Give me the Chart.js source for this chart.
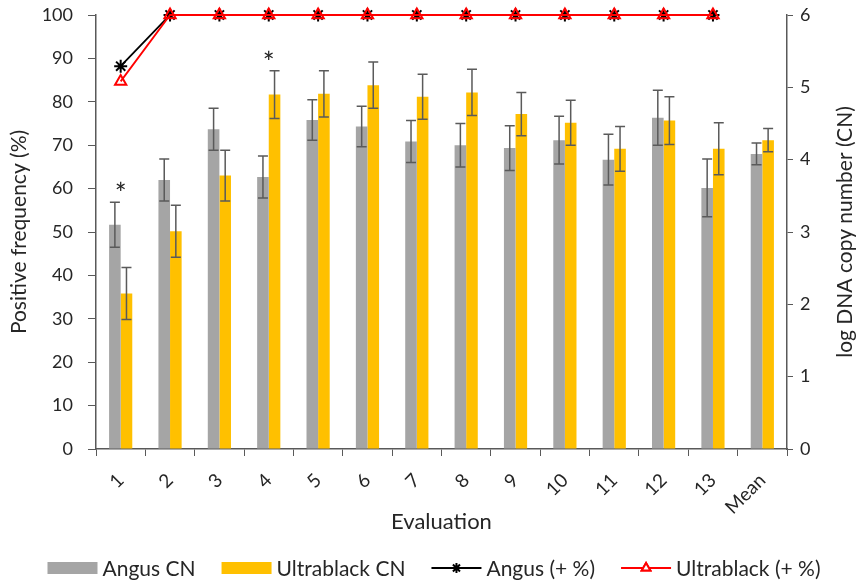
<!DOCTYPE html>
<html>
<head>
<meta charset="utf-8">
<script src="https://cdn.jsdelivr.net/npm/chart.js@4/dist/chart.umd.min.js"></script>
<style>
  html, body { margin: 0; padding: 0; background: #fff; }
  #wrap { width: 860px; height: 583px; }
</style>
</head>
<body>
<div id="wrap"><canvas id="grafik" width="860" height="583"></canvas></div>
<script>
// =====================================================
// DATA
// =====================================================
const evaluasi = ['1', '2', '3', '4', '5', '6', '7', '8', '9', '10', '11', '12', '13', 'Mean'];

// log DNA copy number (right axis)
const angusCN      = [3.10, 3.72, 4.42, 3.76, 4.55, 4.46, 4.25, 4.20, 4.16, 4.27, 4.00, 4.58, 3.61, 4.08];
const angusCNErr   = [0.31, 0.29, 0.29, 0.29, 0.28, 0.28, 0.29, 0.30, 0.31, 0.33, 0.35, 0.38, 0.40, 0.15];
const ultraCN      = [2.15, 3.01, 3.78, 4.90, 4.91, 5.03, 4.87, 4.93, 4.63, 4.51, 4.15, 4.54, 4.15, 4.27];
const ultraCNErr   = [0.36, 0.36, 0.35, 0.33, 0.32, 0.32, 0.31, 0.32, 0.30, 0.31, 0.31, 0.33, 0.36, 0.16];

// positive frequency % (left axis)
const angusPersen  = [88.2, 100, 100, 100, 100, 100, 100, 100, 100, 100, 100, 100, 100, null];
const ultraPersen  = [84.7, 100, 100, 100, 100, 100, 100, 100, 100, 100, 100, 100, 100, null];

// evaluasi dengan perbedaan signifikan (*)
const signifikan = ['1', '4'];

const FONT = 'Lato';
const WARNA_TEKS = '#262626';
const WARNA_SUMBU = '#595959';

// =====================================================
// PLUGIN ERROR BAR + TANDA *
// =====================================================
const errorBarPlugin = {
    id: 'errorBar',
    afterDatasetsDraw(chart) {
        const ctx = chart.ctx;
        const skala = chart.scales.y1;
        const daftarErr = [angusCNErr, ultraCNErr];
        const puncak = [];

        ctx.save();
        ctx.strokeStyle = '#5a5a5a';
        ctx.lineWidth = 1.5;

        [0, 1].forEach(di => {
            const meta = chart.getDatasetMeta(di);
            const nilai = chart.data.datasets[di].data;
            meta.data.forEach((bar, i) => {
                const atas = skala.getPixelForValue(nilai[i] + daftarErr[di][i]);
                const bawah = skala.getPixelForValue(nilai[i] - daftarErr[di][i]);
                const x = bar.x;
                const cap = 5;
                ctx.beginPath();
                ctx.moveTo(x, atas); ctx.lineTo(x, bawah);
                ctx.moveTo(x - cap, atas); ctx.lineTo(x + cap, atas);
                ctx.moveTo(x - cap, bawah); ctx.lineTo(x + cap, bawah);
                ctx.stroke();
                puncak[i] = Math.min(puncak[i] ?? Infinity, atas);
            });
        });

        // tanda signifikan
        ctx.fillStyle = '#222';
        ctx.font = '28px ' + FONT;
        ctx.textAlign = 'center';
        ctx.textBaseline = 'alphabetic';
        signifikan.forEach(lbl => {
            const i = evaluasi.indexOf(lbl);
            const x = chart.scales.x.getPixelForValue(i);
            ctx.fillText('*', x, puncak[i] + 2);
        });
        ctx.restore();
    }
};

// =====================================================
// PLUGIN JUDUL SUMBU KANAN + LEGENDA
// =====================================================
const legendaPlugin = {
    id: 'legenda',
    afterDraw(chart) {
        const ctx = chart.ctx;
        const area = chart.chartArea;

        // judul sumbu kanan (dibaca dari bawah ke atas)
        ctx.save();
        ctx.translate(845, (area.top + area.bottom) / 2);
        ctx.rotate(-Math.PI / 2);
        ctx.font = '21px ' + FONT;
        ctx.fillStyle = WARNA_TEKS;
        ctx.textAlign = 'center';
        ctx.textBaseline = 'middle';
        ctx.fillText('log DNA copy number (CN)', 0, 0);
        ctx.restore();

        const item = [
            { jenis: 'kotak', warna: '#a5a5a5', teks: 'Angus CN' },
            { jenis: 'kotak', warna: '#ffc000', teks: 'Ultrablack CN' },
            { jenis: 'garis', warna: '#000000', gaya: 'star', teks: 'Angus (+ %)' },
            { jenis: 'garis', warna: '#ff0000', gaya: 'triangle', teks: 'Ultrablack (+ %)' }
        ];
        const lebarSimbol = 50, jarak = 5, antar = 26;
        const y = 568;

        ctx.save();
        ctx.font = '21px ' + FONT;
        let total = 0;
        item.forEach(it => {
            it.w = ctx.measureText(it.teks).width;
            total += lebarSimbol + jarak + it.w;
        });
        total += antar * (item.length - 1);
        let x = 434 - total / 2;

        item.forEach(it => {
            if (it.jenis === 'kotak') {
                ctx.fillStyle = it.warna;
                ctx.fillRect(x, y - 6, lebarSimbol, 12);
            } else {
                ctx.strokeStyle = it.warna;
                ctx.lineWidth = 2;
                ctx.beginPath();
                ctx.moveTo(x, y); ctx.lineTo(x + lebarSimbol, y);
                ctx.stroke();
                Chart.helpers.drawPoint(ctx, {
                    pointStyle: it.gaya,
                    radius: 5,
                    borderWidth: 2
                }, x + lebarSimbol / 2, y);
                if (it.gaya === 'triangle') {
                    ctx.fillStyle = '#fff';
                    ctx.fill();
                    ctx.stroke();
                }
            }
            ctx.fillStyle = WARNA_TEKS;
            ctx.textAlign = 'left';
            ctx.textBaseline = 'middle';
            ctx.fillText(it.teks, x + lebarSimbol + jarak, y + 1);
            x += lebarSimbol + jarak + it.w + antar;
        });
        ctx.restore();
    }
};

// =====================================================
// GRAFIK
// =====================================================
const ctx = document.getElementById('grafik').getContext('2d');

new Chart(ctx, {
    type: 'bar',
    data: {
        labels: evaluasi,
        datasets: [
            {
                label: 'Angus CN',
                data: angusCN,
                backgroundColor: '#a5a5a5',
                yAxisID: 'y1',
                barPercentage: 1,
                categoryPercentage: 0.47,
                order: 3
            },
            {
                label: 'Ultrablack CN',
                data: ultraCN,
                backgroundColor: '#ffc000',
                yAxisID: 'y1',
                barPercentage: 1,
                categoryPercentage: 0.47,
                order: 3
            },
            {
                type: 'line',
                label: 'Angus (+ %)',
                data: angusPersen,
                yAxisID: 'y',
                borderColor: '#000000',
                borderWidth: 1.8,
                pointStyle: 'star',
                pointRadius: 6.5,
                pointBorderWidth: 2,
                pointBorderColor: '#000000',
                pointBackgroundColor: '#000000',
                clip: false,
                order: 2
            },
            {
                type: 'line',
                label: 'Ultrablack (+ %)',
                data: ultraPersen,
                yAxisID: 'y',
                borderColor: '#ff0000',
                borderWidth: 1.8,
                pointStyle: 'triangle',
                pointRadius: 6.5,
                pointBorderWidth: 2,
                pointBorderColor: '#ff0000',
                pointBackgroundColor: 'rgba(255,255,255,0)',
                clip: false,
                order: 1
            }
        ]
    },
    options: {
        responsive: false,
        animation: false,
        layout: { padding: { top: 15, bottom: 45, left: 0, right: 0 } },
        plugins: {
            legend: { display: false },
            tooltip: { enabled: false }
        },
        scales: {
            x: {
                offset: true,
                grid: {
                    offset: true,
                    drawOnChartArea: false,
                    drawTicks: true,
                    tickLength: 7,
                    color: WARNA_SUMBU
                },
                border: { color: WARNA_SUMBU, width: 1.5 },
                ticks: {
                    minRotation: 45,
                    maxRotation: 45,
                    padding: 13,
                    color: WARNA_TEKS,
                    font: { family: FONT, size: 19 }
                },
                title: {
                    display: true,
                    text: 'Evaluation',
                    color: WARNA_TEKS,
                    font: { family: FONT, size: 22 },
                    padding: { top: 0, bottom: 3 }
                },
                afterFit: s => {
                    s.height = 89;
                    s.paddingLeft = 0; s.paddingRight = 0;
                    s.paddingTop = 0; s.paddingBottom = 0;
                }
            },
            y: {
                position: 'left',
                min: 0,
                max: 100,
                grid: {
                    drawOnChartArea: false,
                    tickLength: 8,
                    color: WARNA_SUMBU
                },
                border: { color: WARNA_SUMBU, width: 1.5 },
                ticks: {
                    stepSize: 10,
                    padding: 15,
                    color: WARNA_TEKS,
                    font: { family: FONT, size: 18 }
                },
                title: {
                    display: true,
                    text: 'Positive frequency (%)',
                    color: WARNA_TEKS,
                    font: { family: FONT, size: 21 },
                    padding: { top: 7, bottom: 0 }
                },
                afterFit: s => {
                    s.width = 96;
                    s.paddingTop = 0; s.paddingBottom = 0;
                }
            },
            y1: {
                position: 'right',
                min: 0,
                max: 6,
                grid: {
                    drawOnChartArea: false,
                    tickLength: 6,
                    color: WARNA_SUMBU
                },
                border: { color: WARNA_SUMBU, width: 1.5 },
                ticks: {
                    stepSize: 1,
                    padding: 7,
                    color: WARNA_TEKS,
                    font: { family: FONT, size: 18 }
                },
                afterFit: s => {
                    s.width = 73;
                    s.paddingTop = 0; s.paddingBottom = 0;
                }
            }
        }
    },
    plugins: [errorBarPlugin, legendaPlugin]
});
</script>
</body>
</html>
